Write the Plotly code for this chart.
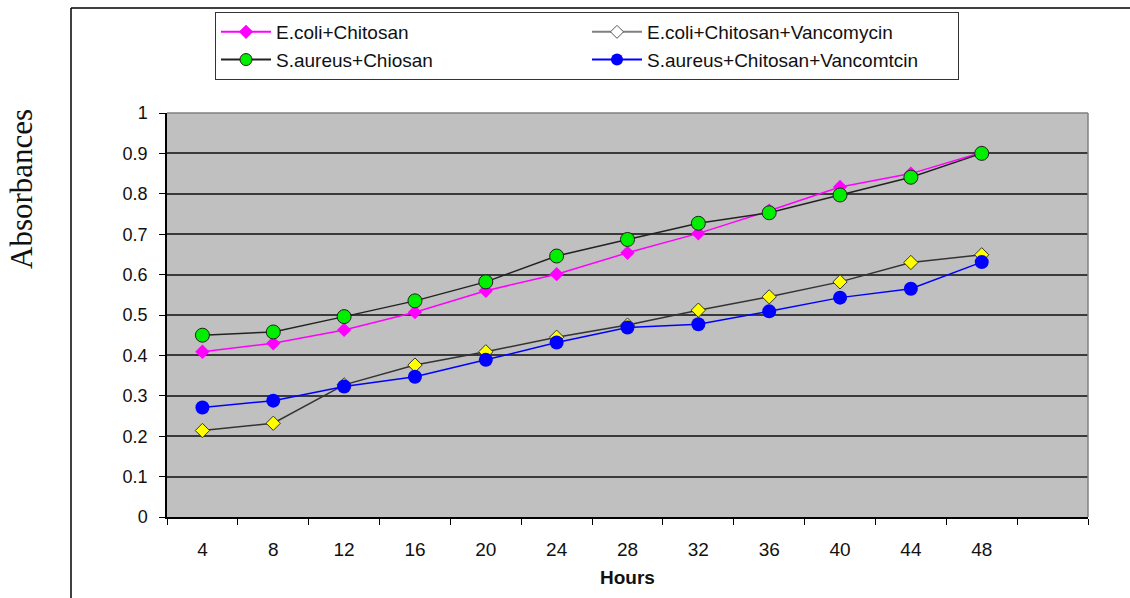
import plotly.graph_objects as go

hours = [4, 8, 12, 16, 20, 24, 28, 32, 36, 40, 44, 48]
ecoli_chitosan = [0.409, 0.430, 0.463, 0.507, 0.560, 0.601, 0.654, 0.702, 0.758, 0.817, 0.850, 0.902]
ecoli_chitosan_vanco = [0.214, 0.232, 0.327, 0.376, 0.409, 0.445, 0.475, 0.512, 0.545, 0.582, 0.630, 0.649]
saureus_chitosan = [0.450, 0.458, 0.496, 0.535, 0.582, 0.646, 0.687, 0.727, 0.753, 0.797, 0.841, 0.900]
saureus_vanco = [0.271, 0.288, 0.323, 0.347, 0.389, 0.432, 0.469, 0.477, 0.509, 0.543, 0.565, 0.631]
y_ticks = [0, 0.1, 0.2, 0.3, 0.4, 0.5, 0.6, 0.7, 0.8, 0.9, 1]
y_tick_labels = ["0", "0.1", "0.2", "0.3", "0.4", "0.5", "0.6", "0.7", "0.8", "0.9", "1"]

names = ["E.coli+Chitosan", "E.coli+Chitosan+Vancomycin", "S.aureus+Chiosan", "S.aureus+Chitosan+Vancomtcin"]

xi = list(range(len(hours)))

fig = go.Figure()

# data traces
fig.add_trace(go.Scatter(x=xi, y=ecoli_chitosan, mode="lines+markers", showlegend=False,
                         line=dict(color="#FF00FF", width=1.5),
                         marker=dict(symbol="diamond", size=11, color="#FF00FF",
                                     line=dict(color="#FF00FF", width=0))))
fig.add_trace(go.Scatter(x=xi, y=ecoli_chitosan_vanco, mode="lines+markers", showlegend=False,
                         line=dict(color="#333333", width=1.5),
                         marker=dict(symbol="diamond", size=11, color="#FFFF00",
                                     line=dict(color="#333333", width=1))))
fig.add_trace(go.Scatter(x=xi, y=saureus_chitosan, mode="lines+markers", showlegend=False,
                         line=dict(color="#222222", width=1.5),
                         marker=dict(symbol="circle", size=14, color="#00EE00",
                                     line=dict(color="#222222", width=1))))
fig.add_trace(go.Scatter(x=xi, y=saureus_vanco, mode="lines+markers", showlegend=False,
                         line=dict(color="#0000FF", width=1.5),
                         marker=dict(symbol="circle", size=14, color="#0000FF",
                                     line=dict(color="#0000FF", width=0))))

# legend entries (styled like the reference legend)
legend_styles = [
    dict(line=dict(color="#FF00FF", width=2), marker=dict(symbol="diamond", size=11, color="#FF00FF")),
    dict(line=dict(color="#808080", width=2), marker=dict(symbol="diamond", size=10, color="white",
                                                           line=dict(color="#555555", width=1))),
    dict(line=dict(color="#222222", width=2), marker=dict(symbol="circle", size=12, color="#00EE00",
                                                           line=dict(color="#222222", width=1))),
    dict(line=dict(color="#0000FF", width=2), marker=dict(symbol="circle", size=12, color="#0000FF")),
]
for nm, st in zip(names, legend_styles):
    fig.add_trace(go.Scatter(x=[None], y=[None], mode="lines+markers", name=nm, **st))

W, H = 1130, 598
L, R, T, B = 167, 42, 113, 81
pw, ph = W - L - R, H - T - B

def px_x(p):
    return (p - L) / pw

def px_y(p):
    return (H - B - p) / ph

fig.update_layout(
    width=W, height=H,
    margin=dict(l=L, r=R, t=T, b=B, pad=0),
    paper_bgcolor="white",
    plot_bgcolor="#C0C0C0",
    font=dict(family="Liberation Sans, Arial, sans-serif", color="#111111"),
    showlegend=True,
    legend=dict(
        orientation="h",
        x=px_x(215), xanchor="left",
        y=px_y(12), yanchor="top",
        entrywidth=306, entrywidthmode="pixels",
        itemwidth=50,
        bgcolor="white", bordercolor="#333333", borderwidth=1,
        font=dict(size=19, family="Liberation Sans, Arial, sans-serif", color="#111111"),
        tracegroupgap=0,
    ),
    xaxis=dict(
        range=[-0.5, 12.5],
        tickmode="array", tickvals=xi, ticktext=[str(h) for h in hours],
        ticks="", showgrid=False, zeroline=False,
        showline=True, linecolor="black", linewidth=1.5,
        tickfont=dict(size=19),
        ticklabelstandoff=14,
        minor=dict(ticks="outside", tick0=-0.5, dtick=1, ticklen=6, tickcolor="black",
                   tickwidth=1, showgrid=False),
        title=dict(text="<b>Hours</b>", font=dict(size=19), standoff=12),
        fixedrange=True,
    ),
    yaxis=dict(
        range=[0, 1],
        tickmode="array", tickvals=y_ticks, ticktext=y_tick_labels,
        ticks="outside", ticklen=6, tickcolor="black", tickwidth=1,
        showgrid=True, gridcolor="#3a3a3a", gridwidth=1.5,
        zeroline=False,
        showline=True, linecolor="black", linewidth=1.5,
        tickfont=dict(size=18),
        ticklabelstandoff=8,
        fixedrange=True,
    ),
    shapes=[
        # plot-area top/right border
        dict(type="line", xref="paper", yref="paper", x0=0, x1=1, y0=1, y1=1,
             line=dict(color="#808080", width=1.5)),
        dict(type="line", xref="paper", yref="paper", x0=1, x1=1, y0=0, y1=1,
             line=dict(color="#808080", width=1.5)),
        # outer chart frame
        dict(type="line", xref="paper", yref="paper", x0=px_x(71), x1=px_x(1140),
             y0=px_y(8), y1=px_y(8), line=dict(color="black", width=1.5)),
        dict(type="line", xref="paper", yref="paper", x0=px_x(71), x1=px_x(71),
             y0=px_y(8), y1=px_y(610), line=dict(color="black", width=1.5)),
    ],
    annotations=[
        dict(text="Absorbances", xref="paper", yref="paper",
             x=px_x(22), y=px_y(189), xanchor="center", yanchor="middle",
             textangle=-90, showarrow=False,
             font=dict(family="Liberation Serif, Times New Roman, serif", size=31, color="#111111")),
    ],
)

fig.write_html("out.html")
